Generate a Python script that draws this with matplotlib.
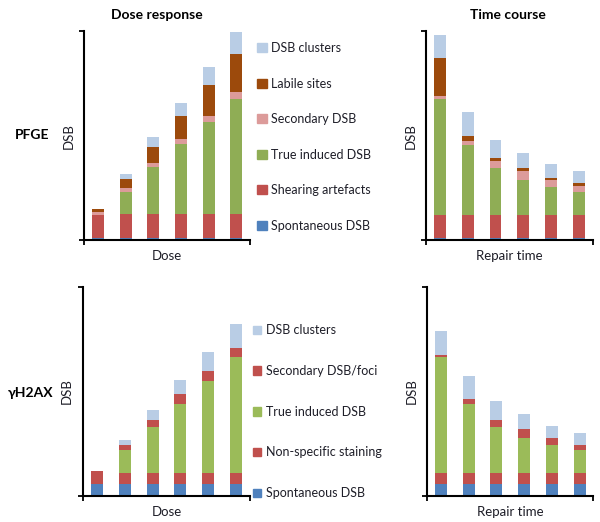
import matplotlib
matplotlib.use("Agg")
import matplotlib.pyplot as plt
from matplotlib.patches import Patch
import numpy as np

plt.rcParams['font.family'] = ['Lato', 'DejaVu Sans']
TXT = '#1e1e28'

# ---- data (arbitrary DSB units, axis top = 100) -------------------------
steps = ['1', '2', '3', '4', '5', '6']

# PFGE, dose response
pd_spont = [1.1, 1.1, 1.1, 1.1, 1.1, 1.1]
pd_shear = [10.8, 11.2, 11.2, 11.2, 11.2, 11.2]
pd_true = [0, 10.8, 22.5, 33.5, 44.3, 55.3]
pd_second = [1.4, 1.9, 1.9, 2.4, 2.7, 3.3]
pd_labile = [1.4, 4.1, 7.8, 11.2, 14.8, 18.0]
pd_cluster = [0, 2.7, 4.8, 6.5, 8.8, 11.0]

# PFGE, time course
pt_spont = [1.0, 1.0, 1.0, 1.0, 1.0, 1.0]
pt_shear = [11.0, 11.0, 11.0, 11.0, 11.0, 11.0]
pt_true = [55.5, 33.6, 22.6, 16.8, 13.4, 10.9]
pt_second = [1.4, 2.1, 3.4, 4.5, 3.4, 3.2]
pt_labile = [18.1, 2.4, 1.1, 1.4, 1.1, 1.1]
pt_cluster = [11.2, 11.2, 8.8, 6.9, 6.4, 5.9]

# gH2AX, dose response
hd_spont = [5.6, 5.6, 5.6, 5.6, 5.6, 5.6]
hd_nonspec = [6.5, 5.6, 5.6, 5.6, 5.6, 5.6]
hd_true = [0, 11.0, 22.0, 33.0, 44.0, 55.3]
hd_second = [0, 2.1, 3.2, 4.5, 4.5, 4.3]
hd_cluster = [0, 2.6, 4.8, 6.7, 9.1, 11.5]

# gH2AX, time course
ht_spont = [5.6, 5.6, 5.6, 5.6, 5.6, 5.6]
ht_nonspec = [5.6, 5.6, 5.6, 5.6, 5.6, 5.6]
ht_true = [55.3, 33.0, 22.0, 16.4, 13.1, 11.0]
ht_second = [1.1, 2.4, 3.2, 4.5, 3.3, 2.1]
ht_cluster = [11.3, 11.0, 9.1, 7.3, 6.1, 5.7]

C_SPONT = '#4f81bd'
C_RED = '#c0504d'
C_GREEN_P = '#8fad55'
C_GREEN_H = '#9bbb59'
C_PINK = '#dc9b9a'
C_BROWN = '#9c4a0c'
C_CLUST = '#b9cde5'

pfge_labels = ['Spontaneous DSB', 'Shearing artefacts', 'True induced DSB',
               'Secondary DSB', 'Labile sites', 'DSB clusters']
pfge_colors = [C_SPONT, C_RED, C_GREEN_P, C_PINK, C_BROWN, C_CLUST]
h_labels = ['Spontaneous DSB', 'Non-specific staining', 'True induced DSB',
            'Secondary DSB/foci', 'DSB clusters']
h_colors = [C_SPONT, C_RED, C_GREEN_H, C_RED, C_CLUST]

fig = plt.figure(figsize=(6.0, 5.22), dpi=100)
ax_pd = fig.add_axes([0.140, 0.540, 0.277, 0.400])
ax_pt = fig.add_axes([0.710, 0.540, 0.278, 0.400])
ax_hd = fig.add_axes([0.138, 0.050, 0.279, 0.400])
ax_ht = fig.add_axes([0.712, 0.050, 0.277, 0.400])


def stacked(ax, series, colors, xlabel):
    x = np.arange(len(steps))
    bottom = np.zeros(len(steps))
    for vals, c in zip(series, colors):
        ax.bar(x, vals, 0.43, bottom=bottom, color=c, edgecolor='none')
        bottom += np.array(vals)
    ax.set_xlim(-0.5, len(steps) - 0.5)
    ax.set_ylim(0, 100)
    ax.set_xticks([-0.5, len(steps) - 0.5])
    ax.set_yticks([0, 100])
    ax.set_xticklabels([])
    ax.set_yticklabels([])
    ax.tick_params(direction='out', length=3.5, width=1.3, color='black')
    for s in ('top', 'right'):
        ax.spines[s].set_visible(False)
    for s in ('left', 'bottom'):
        ax.spines[s].set_linewidth(1.5)
    ax.set_xlabel(xlabel, fontsize=9.5, color=TXT, labelpad=0)
    ax.set_ylabel('DSB', fontsize=9.5, color=TXT, labelpad=0)


stacked(ax_pd, [pd_spont, pd_shear, pd_true, pd_second, pd_labile, pd_cluster],
        pfge_colors, 'Dose')
stacked(ax_pt, [pt_spont, pt_shear, pt_true, pt_second, pt_labile, pt_cluster],
        pfge_colors, 'Repair time')
stacked(ax_hd, [hd_spont, hd_nonspec, hd_true, hd_second, hd_cluster],
        h_colors, 'Dose')
stacked(ax_ht, [ht_spont, ht_nonspec, ht_true, ht_second, ht_cluster],
        h_colors, 'Repair time')

fig.text(157 / 600, 1 - 15 / 522, 'Dose response', fontsize=10,
         fontweight='bold', ha='center', va='center')
fig.text(508 / 600, 1 - 15 / 522, 'Time course', fontsize=10,
         fontweight='bold', ha='center', va='center')
fig.text(32 / 600, 1 - 135 / 522, 'PFGE', fontsize=10, fontweight='bold',
         ha='center', va='center')
fig.text(31 / 600, 1 - 393 / 522, 'γH2AX', fontsize=10, fontweight='bold',
         ha='center', va='center')

# legends (top entry = last stacked series)
h1 = [Patch(color=c, label=l) for c, l in zip(pfge_colors, pfge_labels)][::-1]
fig.legend(handles=h1, loc='upper left', bbox_to_anchor=(246 / 600, 1 - 31 / 522),
           frameon=False, fontsize=9, handlelength=0.75, handleheight=0.75,
           handletextpad=0.35, labelspacing=1.88, labelcolor=TXT)
h2 = [Patch(color=c, label=l) for c, l in zip(h_colors, h_labels)][::-1]
fig.legend(handles=h2, loc='upper left', bbox_to_anchor=(242 / 600, 1 - 313 / 522),
           frameon=False, fontsize=9, handlelength=0.65, handleheight=0.65,
           handletextpad=0.35, labelspacing=2.3, labelcolor=TXT)

fig.savefig('out.png', dpi=100)
